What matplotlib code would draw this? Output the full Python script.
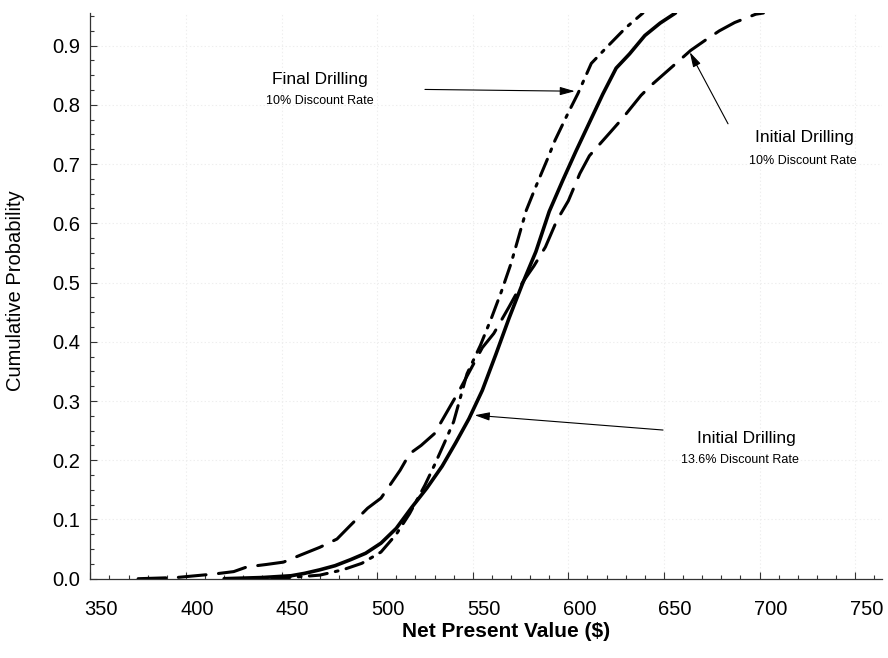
import matplotlib
matplotlib.use('Agg')
import matplotlib.pyplot as plt
from matplotlib.ticker import MultipleLocator, FormatStrFormatter
from matplotlib.transforms import ScaledTranslation

# Initial Drilling, 13.6% discount rate (solid)
npv_init136 = [420, 440, 455, 462, 470, 478, 486, 494, 502, 510, 518, 526, 534, 541, 548,
               555, 562, 569, 576, 583, 590, 597, 604, 611, 618, 625, 632, 640, 648, 656]
cum_init136 = [0.000, 0.002, 0.005, 0.009, 0.015, 0.022, 0.032, 0.043, 0.060, 0.085, 0.120,
               0.153, 0.190, 0.229, 0.270, 0.318, 0.378, 0.440, 0.498, 0.552, 0.620, 0.672,
               0.722, 0.770, 0.818, 0.862, 0.886, 0.917, 0.938, 0.955]

# Final Drilling, 10% discount rate (dash-dot)
npv_final10 = [445, 458, 470, 482, 492, 502, 510, 517, 525, 530, 535, 540, 547, 554, 560,
               565, 570, 574, 578, 583, 589, 593, 600, 605, 612, 620, 630, 639]
cum_final10 = [0.000, 0.003, 0.006, 0.015, 0.026, 0.045, 0.075, 0.110, 0.158, 0.192, 0.228,
               0.265, 0.346, 0.394, 0.442, 0.485, 0.532, 0.577, 0.622, 0.662, 0.708, 0.740,
               0.787, 0.819, 0.870, 0.897, 0.930, 0.955]

# Initial Drilling, 10% discount rate (long dash)
npv_init10 = [375, 385, 395, 405, 415, 425, 432, 442, 451, 460, 470, 479, 486, 495, 502, 512,
              517, 523, 530, 543, 555, 561, 569, 576, 582, 588, 594, 600, 606, 611, 622, 628,
              638, 644, 657, 664, 672, 679, 687, 698, 702]
cum_init10 = [0.000, 0.001, 0.002, 0.005, 0.008, 0.012, 0.020, 0.024, 0.028, 0.040, 0.053,
              0.067, 0.090, 0.119, 0.136, 0.183, 0.211, 0.225, 0.245, 0.318, 0.390, 0.414,
              0.459, 0.500, 0.528, 0.560, 0.605, 0.638, 0.684, 0.714, 0.754, 0.776, 0.816,
              0.835, 0.872, 0.892, 0.910, 0.925, 0.939, 0.953, 0.955]

plt.rcParams['font.family'] = ['Liberation Sans', 'DejaVu Sans']
plt.rcParams['lines.scale_dashes'] = False

fig = plt.figure(figsize=(8.88, 6.58), dpi=100)
ax = fig.add_axes([0.1017, 0.1205, 0.8915, 0.8597])

ax.plot(npv_init136, cum_init136, color='black', lw=2.6, solid_capstyle='round')
ax.plot(npv_final10, cum_final10, color='black', lw=2.2, dashes=[13, 6, 2, 6],
        dash_capstyle='round')
ax.plot(npv_init10, cum_init10, color='black', lw=2.2, dashes=[20, 9],
        dash_capstyle='round')

ax.set_xlim(350, 764)
ax.set_ylim(0, 0.955)

ax.xaxis.set_major_locator(MultipleLocator(50))
ax.xaxis.set_minor_locator(MultipleLocator(10))
ax.yaxis.set_major_locator(MultipleLocator(0.1))
ax.yaxis.set_minor_locator(MultipleLocator(0.025))
ax.yaxis.set_major_formatter(FormatStrFormatter('%.1f'))

ax.tick_params(which='both', direction='in', width=0.8, color='#333333')
ax.tick_params(which='major', length=5)
ax.tick_params(which='minor', length=3)
ax.tick_params(axis='x', labelsize=14.5, pad=15)
ax.tick_params(axis='y', labelsize=14.5, pad=7)

offset = ScaledTranslation(0.11, 0, fig.dpi_scale_trans)
for lab in ax.get_xticklabels():
    lab.set_transform(lab.get_transform() + offset)

for side in ['top', 'right']:
    ax.spines[side].set_visible(False)
for side in ['left', 'bottom']:
    ax.spines[side].set_linewidth(0.9)
    ax.spines[side].set_color('#333333')

ax.grid(True, which='major', color='#eeeeee', linestyle=':', linewidth=0.8)
ax.set_axisbelow(True)

ax.set_xlabel('Net Present Value ($)', fontsize=15, fontweight='bold', va='center')
ax.xaxis.set_label_coords(0.525, -0.094)
ax.set_ylabel('Cumulative Probability', fontsize=14.5, va='center')
ax.yaxis.set_label_coords(-0.095, 0.51)

arrow = dict(arrowstyle='-|>,head_length=0.9,head_width=0.25', color='black', lw=0.8,
             shrinkA=0, shrinkB=0)

ax.annotate('', xy=(603.4, 0.823), xytext=(525, 0.826), arrowprops=arrow)
ax.text(470.1, 0.842, 'Final Drilling', fontsize=12.5, ha='center', va='center')
ax.text(470.1, 0.806, '10% Discount Rate', fontsize=9, ha='center', va='center')

ax.annotate('', xy=(663.5, 0.889), xytext=(683.5, 0.768), arrowprops=arrow)
ax.text(723.6, 0.745, 'Initial Drilling', fontsize=12.5, ha='center', va='center')
ax.text(722.5, 0.706, '10% Discount Rate', fontsize=9, ha='center', va='center')

ax.annotate('', xy=(551, 0.276), xytext=(649.5, 0.251), arrowprops=arrow)
ax.text(693.3, 0.237, 'Initial Drilling', fontsize=12.5, ha='center', va='center')
ax.text(689.6, 0.200, '13.6% Discount Rate', fontsize=9, ha='center', va='center')

fig.savefig('out.png', dpi=100)
